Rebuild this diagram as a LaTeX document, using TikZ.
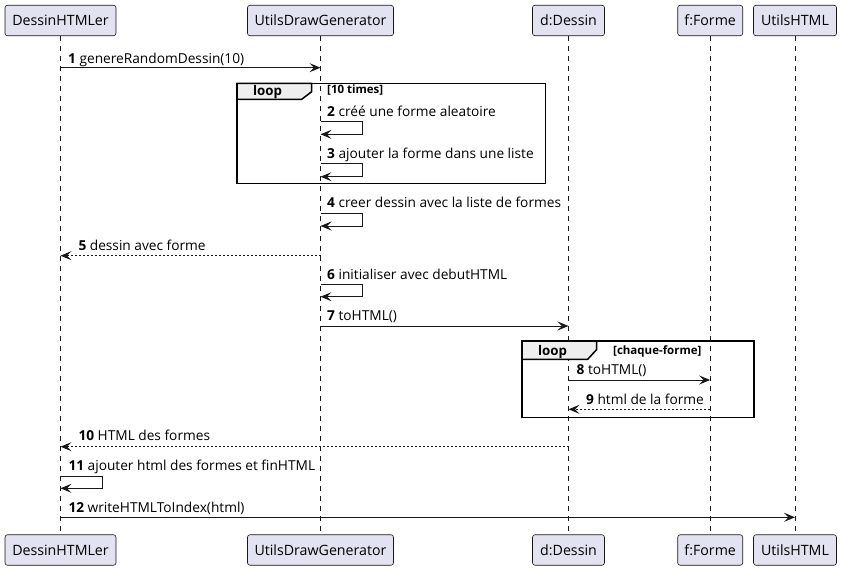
\documentclass[tikz,border=0pt]{standalone}
\usepackage{fontspec}
\setmainfont{Open Sans}
\usetikzlibrary{arrows.meta}
\definecolor{pbox}{HTML}{E2E2F0}
\definecolor{pline}{HTML}{181818}
\definecolor{tabfill}{HTML}{EEEEEE}
\tikzset{
  part/.style={draw=pline, fill=pbox, rounded corners=2.5pt, minimum height=30.5pt, inner sep=0pt, line width=0.6pt, font=\fontsize{14.2}{16}\selectfont},
  life/.style={draw=pline, line width=0.6pt, dash pattern=on 5pt off 5pt},
  msg/.style={draw=pline, line width=1pt, -{Stealth[length=11pt,width=9pt,inset=4.5pt]}},
  ret/.style={msg, dash pattern=on 2pt off 2pt},
  lbl/.style={anchor=base west, inner sep=0pt, font=\fontsize{13.7}{15}\selectfont},
  frm/.style={draw=black, line width=1.5pt},
  tab/.style={draw=black, line width=1.5pt, fill=tabfill},
  tabtxt/.style={anchor=base, inner sep=0pt, font=\fontsize{13.3}{15}\selectfont\bfseries},
  guard/.style={anchor=base west, inner sep=0pt, font=\fontsize{11.5}{13}\selectfont\bfseries},
}
\begin{document}
\begin{tikzpicture}[x=1pt,y=-1pt]
\useasboundingbox (0,0) rectangle (841,570);
% participants
\node[part, minimum width=111pt] (tDH) at (60.5,20.5) {DessinHTMLer};
\node[part, minimum width=146pt] (tUDG) at (320.5,20.5) {UtilsDrawGenerator};
\node[part, minimum width=72pt] (tD) at (568.5,20.5) {d:Dessin};
\node[part, minimum width=65pt] (tF) at (710.2,20.5) {f:Forme};
\node[part, minimum width=83pt] (tUH) at (795,20.5) {UtilsHTML};
\node[part, minimum width=111pt] (bDH) at (60.5,550) {DessinHTMLer};
\node[part, minimum width=146pt] (bUDG) at (320.5,550) {UtilsDrawGenerator};
\node[part, minimum width=72pt] (bD) at (568.5,550) {d:Dessin};
\node[part, minimum width=65pt] (bF) at (710.2,550) {f:Forme};
\node[part, minimum width=83pt] (bUH) at (795,550) {UtilsHTML};
% lifelines
\draw[life] (tDH.south) -- (bDH.north);
\draw[life] (tUDG.south) -- (bUDG.north);
\draw[life] (tD.south) -- (bD.north);
\draw[life] (tF.south) -- (bF.north);
\draw[life] (tUH.south) -- (bUH.north);
% loop frame 1
\draw[frm] (237,83.3) rectangle (545.7,183.3);
\draw[tab] (237,83.3) -- (311.7,83.3) -- (311.7,91.7) -- (301.7,99.3) -- (237,99.3) -- cycle;
\node[tabtxt] (loop1) at (267.5,95.3) {loop};
\node[guard] (g1) at (327,93.3) {[10 times]};
% loop frame 2
\draw[frm] (522,341) rectangle (754,417.3);
\draw[tab] (522,341) -- (596.7,341) -- (596.7,349.5) -- (587.7,359.3) -- (522,359.3) -- cycle;
\node[tabtxt] (loop2) at (552.5,355.5) {loop};
\node[guard] (g2) at (613,354.7) {[chaque-forme]};
% messages
\draw[msg] (tDH |- 0,67.7) -- (tUDG |- 0,67.7);
\node[lbl] (l1) at (68,63) {\textbf{1} genereRandomDessin(10)};
\draw[msg] (tUDG |- 0,121.7) -- ++(42,0) -- ++(0,12.6) -- (tUDG |- 0,134.3);
\node[lbl] (l2) at (327,116) {\textbf{2} créé une forme aleatoire};
\draw[msg] (tUDG |- 0,163.3) -- ++(42,0) -- ++(0,13.4) -- (tUDG |- 0,176.7);
\node[lbl] (l3) at (327,158) {\textbf{3} ajouter la forme dans une liste};
\draw[msg] (tUDG |- 0,213.3) -- ++(42,0) -- ++(0,12.7) -- (tUDG |- 0,226);
\node[lbl] (l4) at (327,207.5) {\textbf{4} creer dessin avec la liste de formes};
\draw[ret] (tUDG |- 0,255.7) -- (tDH |- 0,255.7);
\node[lbl] (l5) at (78.3,250) {\textbf{5} dessin avec forme};
\draw[msg] (tUDG |- 0,284.3) -- ++(42,0) -- ++(0,12.4) -- (tUDG |- 0,296.7);
\node[lbl] (l6) at (327,279) {\textbf{6} initialiser avec debutHTML};
\draw[msg] (tUDG |- 0,326) -- (tD |- 0,326);
\node[lbl] (l7) at (327,320.7) {\textbf{7} toHTML()};
\draw[msg] (tD |- 0,380) -- (tF |- 0,380);
\node[lbl] (l8) at (576.5,374.3) {\textbf{8} toHTML()};
\draw[ret] (tF |- 0,409.3) -- (tD |- 0,409.3);
\node[lbl] (l9) at (586,404) {\textbf{9} html de la forme};
\draw[ret] (tD |- 0,446.7) -- (tDH |- 0,446.7);
\node[lbl] (l10) at (78.3,440.5) {\textbf{10} HTML des formes};
\draw[msg] (tDH |- 0,476) -- ++(42,0) -- ++(0,12.3) -- (tDH |- 0,488.3);
\node[lbl] (l11) at (68.3,470.5) {\textbf{11} ajouter html des formes et finHTML};
\draw[msg] (tDH |- 0,517.3) -- (tUH |- 0,517.3);
\node[lbl] (l12) at (68.3,512.7) {\textbf{12} writeHTMLToIndex(html)};
\end{tikzpicture}
\end{document}
